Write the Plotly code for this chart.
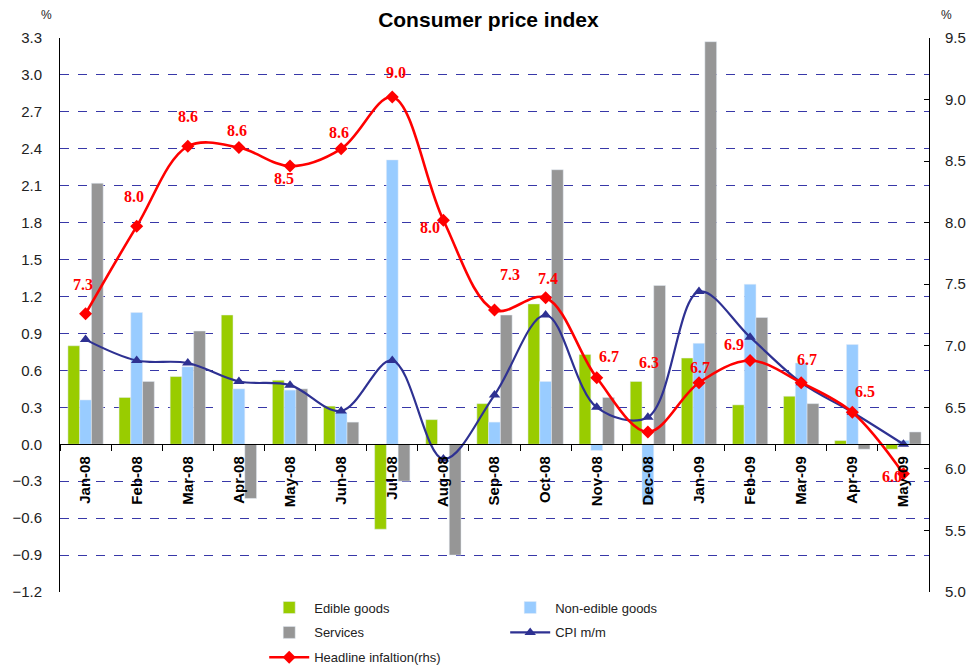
import plotly.graph_objects as go

months = ["Jan-08", "Feb-08", "Mar-08", "Apr-08", "May-08", "Jun-08", "Jul-08", "Aug-08",
          "Sep-08", "Oct-08", "Nov-08", "Dec-08", "Jan-09", "Feb-09", "Mar-09", "Apr-09", "May-09"]
edible = [0.80, 0.38, 0.55, 1.05, 0.52, 0.31, -0.69, 0.20, 0.33, 1.14, 0.73, 0.51, 0.70, 0.32, 0.39, 0.03, -0.04]
non_edible = [0.36, 1.07, 0.63, 0.45, 0.44, 0.26, 2.31, 0.0, 0.18, 0.51, -0.05, -0.47, 0.82, 1.30, 0.66, 0.81, 0.03]
services = [2.12, 0.51, 0.92, -0.44, 0.45, 0.18, -0.30, -0.90, 1.05, 2.23, 0.38, 1.29, 3.27, 1.03, 0.33, -0.04, 0.10]
cpi_mm = [0.85, 0.68, 0.66, 0.51, 0.48, 0.27, 0.68, -0.12, 0.40, 1.05, 0.30, 0.22, 1.24, 0.87, 0.50, 0.26, 0.0]
headline = [7.26, 7.97, 8.62, 8.61, 8.46, 8.60, 9.02, 8.02, 7.29, 7.39, 6.74, 6.30, 6.70, 6.88, 6.70, 6.46, 5.96]

# label offsets (pixels) for headline data labels
lab_dx = [-3, -3, 0, -2, -6, -2, 4, -13, 15, 2, 12, 1, 1, -16, 6, 13, -11]
lab_dy = [29, 30, 30, 17, -12, 16, 25, -7, 36, 19, 21, 69, 15, 16, 23, 21, -3]

FONT = "Arial, Liberation Sans, sans-serif"
NAVY = "#2E3192"
GRID = "#3838A8"

fig = go.Figure()
fig.add_trace(go.Bar(x=months, y=edible, name="Edible goods", marker_color="#99CC00",
                     legend="legend", legendgroup="a"))
fig.add_trace(go.Bar(x=months, y=non_edible, name="Non-edible goods", marker_color="#99CCFF",
                     legend="legend2", legendgroup="b"))
fig.add_trace(go.Bar(x=months, y=services, name="Services", marker_color="#969696",
                     legend="legend", legendgroup="c"))
fig.add_trace(go.Scatter(x=months, y=cpi_mm, name="CPI m/m", mode="lines+markers",
                         line=dict(color=NAVY, width=2.2, shape="spline"),
                         marker=dict(symbol="triangle-up", size=10, color=NAVY),
                         legend="legend2", legendgroup="d"))
fig.add_trace(go.Scatter(x=months, y=headline, name="Headline infaltion(rhs)", mode="lines+markers",
                         line=dict(color="#FF0000", width=2.6, shape="spline"),
                         marker=dict(symbol="diamond", size=10, color="#FF0000"),
                         yaxis="y2", legend="legend", legendgroup="e"))

annotations = []
for m, v, dx, dy in zip(months, headline, lab_dx, lab_dy):
    annotations.append(dict(x=m, y=v, xref="x", yref="y2", text=f"{v:.1f}", showarrow=False,
                            xshift=dx, yshift=dy,
                            font=dict(family="Liberation Serif, Times New Roman, serif", size=16,
                                      color="#FF0000", weight="bold")))
annotations.append(dict(x=-0.007, y=1.0415, xref="paper", yref="paper", text="%", showarrow=False,
                        xanchor="right", yanchor="middle", font=dict(family=FONT, size=12, color="#222")))
annotations.append(dict(x=1.0115, y=1.0415, xref="paper", yref="paper", text="%", showarrow=False,
                        xanchor="left", yanchor="middle", font=dict(family=FONT, size=12, color="#222")))

fig.update_layout(
    width=971, height=669,
    margin=dict(l=60, r=42, t=38, b=77, autoexpand=False),
    paper_bgcolor="white", plot_bgcolor="white",
    barmode="group", bargap=0.31, bargroupgap=0,
    title=dict(text="<b>Consumer price index</b>", x=0.503, xref="container", xanchor="center",
               y=0.97, yref="container", yanchor="middle", automargin=False,
               font=dict(family=FONT, size=21, color="#000")),
    font=dict(family=FONT, color="#222"),
    xaxis=dict(type="category", range=[-0.5, len(months) - 0.5], autorange=False,
               anchor="free", position=1.2 / 4.5, showline=True, linecolor="#000",
               linewidth=1, ticks="outside", tickson="boundaries", ticklen=6, tickcolor="#000",
               tickangle=-90, showgrid=False, automargin=False, ticklabelstandoff=5,
               tickfont=dict(family=FONT, size=15, color="#000", weight="bold")),
    yaxis=dict(range=[-1.2, 3.3], tick0=0, dtick=0.3, tickformat=".1f", showgrid=True,
               gridcolor=GRID, griddash="dash", gridwidth=1, zeroline=False, showline=True,
               linecolor="#000", linewidth=1, ticklabelstandoff=14, automargin=False,
               tickfont=dict(family=FONT, size=15, color="#222")),
    yaxis2=dict(range=[5.0, 9.5], tick0=5, dtick=0.5, tickformat=".1f", overlaying="y", side="right",
                showgrid=False, zeroline=False, showline=True, linecolor="#000", linewidth=1,
                ticks="inside", ticklen=5, tickcolor="#000", ticklabelstandoff=12, automargin=False,
                tickfont=dict(family=FONT, size=15, color="#222")),
    legend=dict(x=0.235, y=-0.001, xanchor="left", yanchor="top", orientation="v",
                tracegroupgap=5, itemwidth=40, bgcolor="rgba(0,0,0,0)",
                font=dict(family=FONT, size=13, color="#222")),
    legend2=dict(x=0.5123, y=-0.001, xanchor="left", yanchor="top", orientation="v",
                 tracegroupgap=5, itemwidth=40, bgcolor="rgba(0,0,0,0)",
                 font=dict(family=FONT, size=13, color="#222")),
    annotations=annotations,
    showlegend=True,
)

fig.write_html("out.html", config={"displayModeBar": False},
               post_script="document.body.style.margin='0';")
